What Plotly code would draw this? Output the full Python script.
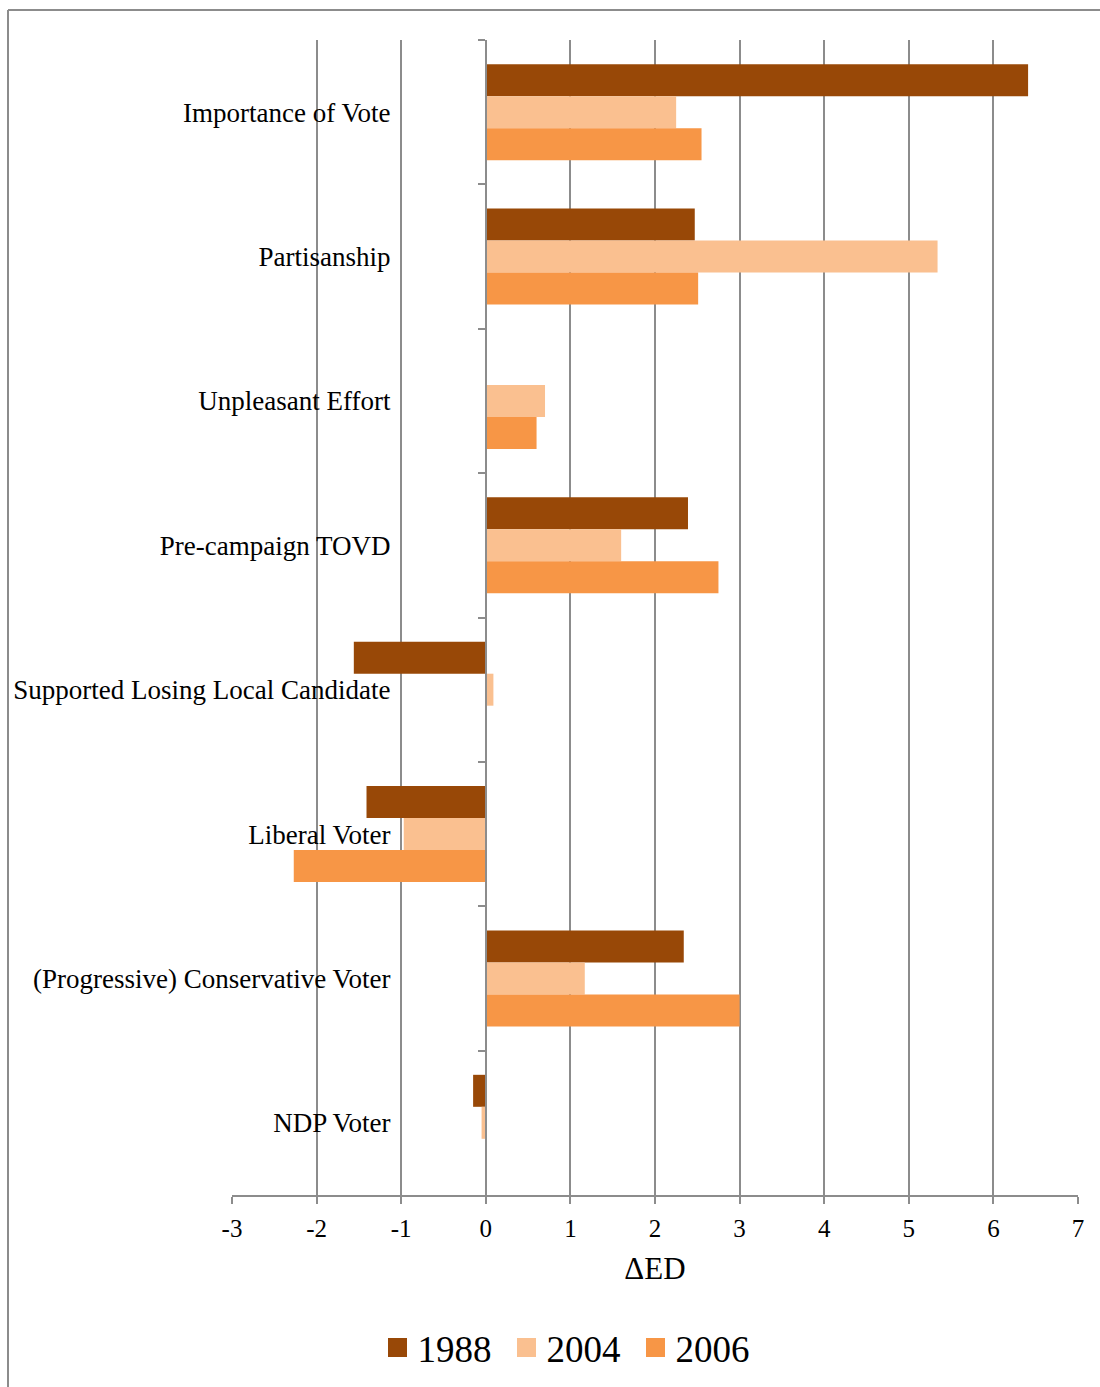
import plotly.graph_objects as go

categories = [
    "Importance of Vote",
    "Partisanship",
    "Unpleasant Effort",
    "Pre-campaign TOVD",
    "Supported Losing Local Candidate",
    "Liberal Voter",
    "(Progressive) Conservative Voter",
    "NDP Voter",
]
years = ["1988", "2004", "2006"]
values_1988 = [6.41, 2.47, None, 2.39, -1.56, -1.41, 2.34, -0.15]
values_2004 = [2.25, 5.34, 0.70, 1.60, 0.09, -0.97, 1.17, -0.05]
values_2006 = [2.55, 2.51, 0.60, 2.75, 0.0, -2.27, 3.00, None]
x_ticks = [-3, -2, -1, 0, 1, 2, 3, 4, 5, 6, 7]

colors = ["#984807", "#FAC090", "#F79646"]
series = [values_1988, values_2004, values_2006]

FONT = "Liberation Serif, Times New Roman, serif"
GRID = "#8c8c8c"

# plot area in pixels (1100 x 1387 canvas)
L, R, T, B = 232, 22, 40, 192
W, H = 1100, 1387
pw, ph = W - L - R, H - T - B


def px_x(x):
    return (x - L) / pw


def px_y(y):
    return (H - B - y) / ph


fig = go.Figure()
for name, vals, col in zip(years, series, colors):
    fig.add_trace(go.Bar(
        y=categories, x=vals, orientation="h", name=name,
        marker=dict(color=col, line=dict(width=0)),
        showlegend=False,
    ))
    # legend proxy with a larger square swatch
    fig.add_trace(go.Scatter(
        x=[None], y=[None], mode="markers", name=name,
        marker=dict(symbol="square", size=16, color=col,
                    line=dict(color=col, width=3)),
        showlegend=True,
    ))

zero_pos = (0 - x_ticks[0]) / (x_ticks[-1] - x_ticks[0])

fig.update_layout(
    width=W, height=H,
    margin=dict(l=L, r=R, t=T, b=B, autoexpand=False),
    paper_bgcolor="white", plot_bgcolor="white",
    font=dict(family=FONT, color="black"),
    barmode="group", bargap=0.335, bargroupgap=0,
    xaxis=dict(
        range=[x_ticks[0], x_ticks[-1]], tickvals=x_ticks,
        ticktext=[str(v) for v in x_ticks],
        showgrid=True, gridcolor=GRID, gridwidth=1.8,
        zeroline=False, showline=True, linecolor=GRID, linewidth=1.8,
        ticks="outside", ticklen=7, tickcolor=GRID, tickwidth=1.8,
        ticklabelstandoff=3,
        tickfont=dict(size=25, family=FONT),
        title=dict(text="ΔED", font=dict(size=31, family=FONT), standoff=16),
        fixedrange=True,
    ),
    yaxis=dict(
        autorange="reversed", type="category",
        anchor="free", position=zero_pos,
        showline=True, linecolor=GRID, linewidth=1.8,
        showgrid=False, zeroline=False,
        ticks="outside", tickson="boundaries", ticklen=7,
        tickcolor=GRID, tickwidth=1.8,
        ticklabelstandoff=89,
        tickfont=dict(size=27, family=FONT),
    ),
    legend=dict(
        orientation="h", x=px_x(571), xanchor="center",
        y=px_y(1348), yanchor="middle",
        font=dict(size=37, family=FONT), itemsizing="trace",
        entrywidth=84,
        bgcolor="rgba(0,0,0,0)",
    ),
)

# chart frame (top and left edges)
fx, fy = px_x(8), px_y(10)
fig.add_shape(type="line", xref="paper", yref="paper",
              x0=fx, y0=fy, x1=px_x(W + 20), y1=fy,
              line=dict(color=GRID, width=2))
fig.add_shape(type="line", xref="paper", yref="paper",
              x0=fx, y0=fy, x1=fx, y1=px_y(H + 20),
              line=dict(color=GRID, width=2))

fig.write_html("out.html")
